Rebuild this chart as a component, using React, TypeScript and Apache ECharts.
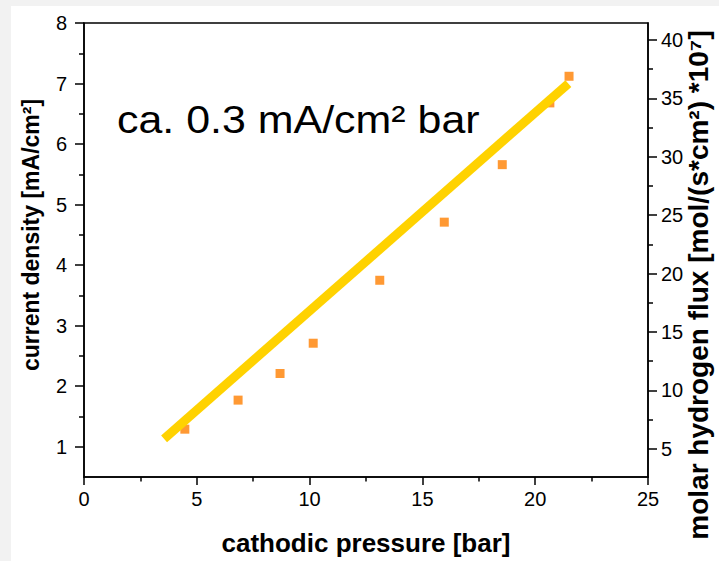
import React, { useEffect, useRef } from "react";
import * as echarts from "echarts";

// cathodic pressure [bar] of the measured points
const pressure = [4.47, 6.83, 8.69, 10.16, 13.11, 15.97, 18.54, 20.65, 21.5];
// current density [mA/cm²] of the measured points
const currentDensity = [1.29, 1.77, 2.21, 2.71, 3.75, 4.71, 5.66, 6.68, 7.12];
// linear trend line end points
const fitPressure = [3.55, 21.47];
const fitCurrent = [1.13, 7.0];

// axis ticks
const leftMajorTicks = [1, 2, 3, 4, 5, 6, 7, 8];
const leftMinorTicks = [1.5, 2.5, 3.5, 4.5, 5.5, 6.5, 7.5];
const rightMajorTicks = [5, 10, 15, 20, 25, 30, 35, 40];
const rightMinorTicks = [7.5, 12.5, 17.5, 22.5, 27.5, 32.5, 37.5];
const leftRange = [0.5, 8];
const fluxPerCurrent = 5.18; // molar flux (*10^7) per mA/cm²

const FONT = "'Liberation Sans', Arial, Helvetica, sans-serif";

export default function App() {
  const ref = useRef<HTMLDivElement>(null);

  useEffect(() => {
    if (!ref.current) return;
    const chart = echarts.init(ref.current, undefined, { renderer: "svg" });

    const black = "#000";
    const axisLine = { show: true, onZero: false, lineStyle: { color: black, width: 1.5 } };
    const rightMin = leftRange[0] * fluxPerCurrent;
    const rightMax = leftRange[1] * fluxPerCurrent;

    const option: any = {
      animation: false,
      backgroundColor: "#fff",
      textStyle: { fontFamily: FONT, color: black },
      grid: {
        left: 84,
        right: 71,
        top: 23,
        bottom: 84,
        containLabel: false,
        outerBoundsMode: "none",
        show: true,
        borderColor: black,
        borderWidth: 1.5,
        backgroundColor: "transparent",
      },
      graphic: [
        { type: "rect", left: 0, top: 0, shape: { width: 719, height: 6 }, style: { fill: "#f2f2f2" }, z: -10 },
        { type: "rect", left: 0, top: 0, shape: { width: 11, height: 561 }, style: { fill: "#f2f2f2" }, z: -10 },
        {
          type: "text",
          x: 117,
          y: 101,
          scaleX: 1.13,
          z: 10,
          style: {
            text: "ca. 0.3 mA/cm² bar",
            font: `38px ${FONT}`,
            fill: black,
            verticalAlign: "top",
            align: "left",
          },
        },
      ],
      xAxis: {
        type: "value",
        min: 0,
        max: 25,
        interval: 5,
        axisLine,
        axisTick: { show: true, length: 8, lineStyle: { color: black, width: 1.5 } },
        minorTick: { show: true, splitNumber: 2, length: 4.5, lineStyle: { color: black, width: 1.5 } },
        axisLabel: { fontSize: 20, color: black, margin: 12, fontFamily: FONT },
        splitLine: { show: false },
        minorSplitLine: { show: false },
        name: "cathodic pressure [bar]",
        nameLocation: "middle",
        nameGap: 53,
        nameTextStyle: { fontSize: 26, fontWeight: "bold", color: black, fontFamily: FONT },
      },
      yAxis: [
        {
          type: "value",
          position: "left",
          min: leftRange[0],
          max: leftRange[1],
          axisLine,
          axisTick: { show: true, length: 9, customValues: leftMajorTicks, lineStyle: { color: black, width: 1.5 } },
          axisLabel: { fontSize: 20, color: black, margin: 17, customValues: leftMajorTicks, fontFamily: FONT },
          splitLine: { show: false },
          name: "current density [mA/cm²]",
          nameLocation: "middle",
          nameRotate: 90,
          nameGap: 42,
          nameTextStyle: { fontSize: 23, fontWeight: "bold", color: black, fontFamily: FONT, padding: [0, 0, 0, 30] },
        },
        {
          type: "value",
          position: "left",
          min: leftRange[0],
          max: leftRange[1],
          axisLine: { show: false },
          axisTick: { show: true, length: 5, customValues: leftMinorTicks, lineStyle: { color: black, width: 1.5 } },
          axisLabel: { show: false },
          splitLine: { show: false },
        },
        {
          type: "value",
          position: "right",
          min: rightMin,
          max: rightMax,
          axisLine,
          axisTick: { show: true, length: 9, customValues: rightMajorTicks, lineStyle: { color: black, width: 1.5 } },
          axisLabel: { fontSize: 20, color: black, margin: 13, customValues: rightMajorTicks, fontFamily: FONT },
          splitLine: { show: false },
          name: "molar hydrogen flux [mol/(s*cm²) *10⁷]",
          nameLocation: "middle",
          nameRotate: 90,
          nameGap: 36,
          nameMoveOverlap: false,
          nameTextStyle: { fontSize: 28, fontWeight: "bold", color: black, fontFamily: FONT, padding: [0, 70, 0, 0] },
        },
        {
          type: "value",
          position: "right",
          min: rightMin,
          max: rightMax,
          axisLine: { show: false },
          axisTick: { show: true, length: 5, customValues: rightMinorTicks, lineStyle: { color: black, width: 1.5 } },
          axisLabel: { show: false },
          splitLine: { show: false },
        },
      ],
      series: [
        {
          type: "scatter",
          yAxisIndex: 0,
          symbol: "rect",
          symbolSize: 9,
          itemStyle: { color: "#FF8000" },
          data: pressure.map((p, i) => [p, currentDensity[i]]),
          z: 2,
        },
        {
          type: "line",
          yAxisIndex: 0,
          showSymbol: false,
          symbol: "none",
          lineStyle: { color: "#FFD200", width: 9, cap: "butt" },
          data: fitPressure.map((p, i) => [p, fitCurrent[i]]),
          z: 3,
        },
      ],
    };

    chart.setOption(option);
    return () => chart.dispose();
  }, []);

  return (
    <div
      ref={ref}
      style={{ position: "fixed", left: 0, top: 0, width: 719, height: 561 }}
    />
  );
}
